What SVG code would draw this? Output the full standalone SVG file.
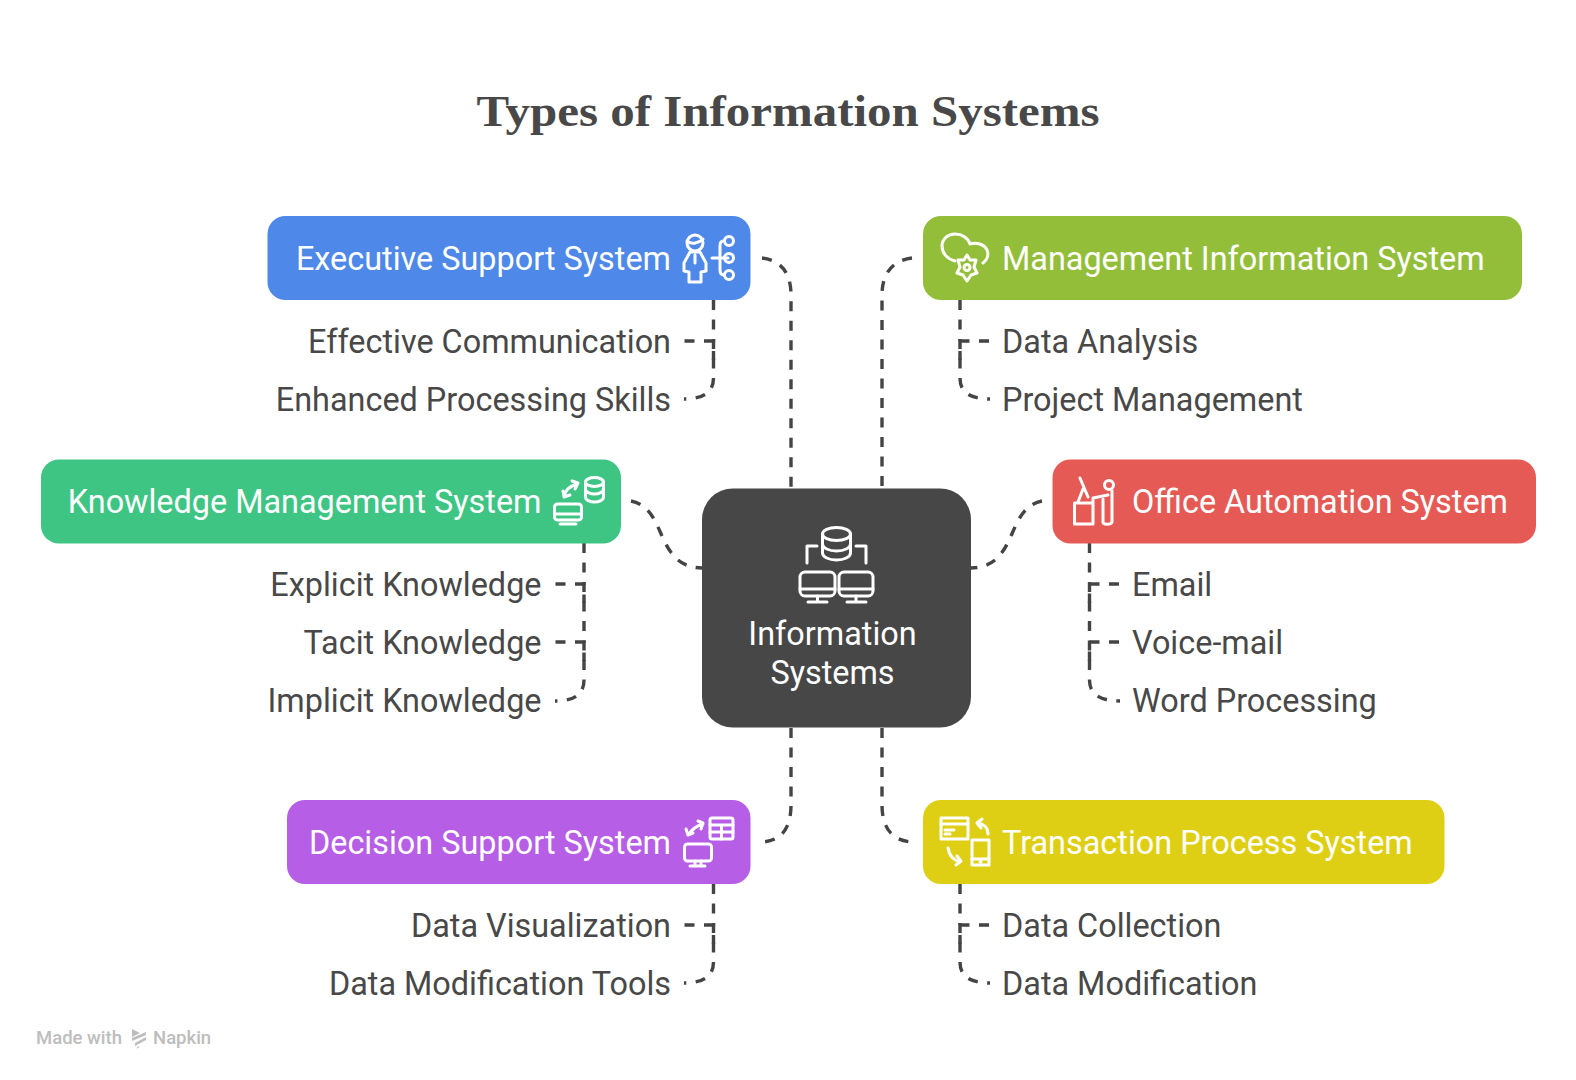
<svg xmlns="http://www.w3.org/2000/svg" width="1576" height="1080" viewBox="0 0 1576 1080">
<style>
text{font-family:Roboto,"Liberation Sans",sans-serif}
.t{font-size:32.400px;fill:#fff}
.s{font-size:32.400px;fill:#484848}
.c{font-size:32.400px;fill:#fff;text-anchor:middle}
.e{text-anchor:end}
.i{fill:none;stroke:#fff;stroke-width:3;stroke-linecap:round;stroke-linejoin:round}
.d{fill:none;stroke:#444;stroke-width:3.400;stroke-dasharray:10 9.500}
</style>
<rect width="1576" height="1080" fill="#fff"/>
<text x="476.500" y="125.500" textLength="623" lengthAdjust="spacingAndGlyphs" style="font-family:'Liberation Serif',serif;font-size:45px;font-weight:700;fill:#484848">Types of Information Systems</text>
<g id="connectors">
<path class="d" d="M762 258C780 260 791 272 791 295V488"/>
<path class="d" d="M912 258C894 260 882 272 882 295V488"/>
<path class="d" d="M631 501C668 508 654 567 702 568"/>
<path class="d" d="M1042 501C1005 508 1019 567 971 568"/>
<path class="d" d="M791 728V805C791 830 780 841 762 842"/>
<path class="d" d="M882 728V805C882 830 894 841 912 842"/>
<path class="d" d="M713.500 300V378C713.500 391 705 399 684 399"/>
<path class="d" d="M684.500 341H713.500V360"/>
<path class="d" d="M960 300V378C960 391 968 399 990 399"/>
<path class="d" d="M989 341H960V360"/>
<path class="d" d="M584 543V680C584 693 576 701 555 701"/>
<path class="d" d="M555.500 584H584V603"/>
<path class="d" d="M555.500 642H584V661"/>
<path class="d" d="M1089.500 543V680C1089.500 693 1098 701 1120 701"/>
<path class="d" d="M1119 584H1089.500V603"/>
<path class="d" d="M1119 642H1089.500V661"/>
<path class="d" d="M713.500 884V962C713.500 975 705 983 684 983"/>
<path class="d" d="M684.500 925H713.500V944"/>
<path class="d" d="M960 884V962C960 975 968 983 990 983"/>
<path class="d" d="M989 925H960V944"/>
</g>
<g id="center">
<rect x="702" y="488.500" width="269" height="239" rx="31" fill="#474747"/>
<g class="i">
<ellipse cx="836.500" cy="534" rx="14" ry="6.500"/>
<path d="M822.500 534V553C822.500 557 829 560 836.500 560S850.500 557 850.500 553V534M822.500 544C822.500 548 829 551 836.500 551S850.500 548 850.500 544"/>
<path d="M807 563V546H817M866 563V546H856"/>
<rect x="800" y="572" width="35" height="24" rx="5"/><path d="M800 589H835M817.500 596V602M808 602H827"/>
<rect x="839" y="572" width="34" height="24" rx="5"/><path d="M839 589H873M856 596V602M847 602H866"/>
</g>
<text class="c" x="832.500" y="644.500">Information</text>
<text class="c" x="832.500" y="683.500">Systems</text>
</g>
<g id="executive">
<rect x="267.500" y="216" width="483" height="84" rx="18" fill="#4e88e8"/>
<text class="t e" x="671" y="269.700">Executive Support System</text>
<g class="i">
<circle cx="695" cy="243" r="8"/><path d="M687 241C692 245 699 243 703 239"/>
<path d="M690 252L684 263V271L689 272V282H701V272L706 271V263L700 252ZM695 255V263"/>
<path d="M712 258H728M723 241C720 241 720 244 720 246V270C720 273 721 275 724 275"/>
<circle cx="729" cy="241" r="4.500"/><circle cx="729" cy="258" r="4.500"/><circle cx="729" cy="275" r="4.500"/>
</g>
<text class="s e" x="671" y="352.700">Effective Communication</text>
<text class="s e" x="671" y="410.700">Enhanced Processing Skills</text>
</g>
<g id="management">
<rect x="923" y="216" width="599" height="84" rx="18" fill="#93be3a"/>
<g class="i">
<path d="M955 261C947 259 942 253 942 246C942 239 948 234 955 234C962 234 968 238 970 244C976 242 984 244 987 250C989 255 987 260 983 263"/>
<path d="M967 255L970 260H976L974 267L977 273L971 275L967 281L963 275L957 273L960 267L958 260H964Z"/><circle cx="967" cy="267.500" r="3"/>
</g>
<text class="t" x="1002" y="269.700">Management Information System</text>
<text class="s" x="1002" y="352.700">Data Analysis</text>
<text class="s" x="1002" y="410.700">Project Management</text>
</g>
<g id="knowledge">
<rect x="41" y="459.500" width="580" height="84" rx="18" fill="#3ec584"/>
<text class="t e" x="541.500" y="512.700">Knowledge Management System</text>
<g class="i">
<ellipse cx="594.500" cy="482" rx="9" ry="4.500"/>
<path d="M585.500 482V497C585.500 500 590 502 594.500 502S603.500 500 603.500 497V482M585.500 489C585.500 492 590 494 594.500 494S603.500 492 603.500 489"/>
<path d="M564 497C565 490 570 486 577 484M572 481L578 483L575 489M563 491L564 497L570 495"/>
<rect x="554.500" y="504" width="27" height="16" rx="3"/><path d="M554.500 514H581.500M560 524H576"/>
</g>
<text class="s e" x="541.500" y="595.700">Explicit Knowledge</text>
<text class="s e" x="541.500" y="653.700">Tacit Knowledge</text>
<text class="s e" x="541.500" y="711.700">Implicit Knowledge</text>
</g>
<g id="office">
<rect x="1052.500" y="459.500" width="483.500" height="84" rx="18" fill="#e65a55"/>
<g class="i">
<path d="M1074.500 524V503H1093V524ZM1080 478L1088 497M1078 502L1083 489M1093 503V498L1108 495"/>
<circle cx="1109" cy="485" r="4.500"/>
<path d="M1103 499V522C1103 525 1111 525 1112 522V491"/>
</g>
<text class="t" x="1132" y="512.700">Office Automation System</text>
<text class="s" x="1132" y="595.700">Email</text>
<text class="s" x="1132" y="653.700">Voice-mail</text>
<text class="s" x="1132" y="711.700">Word Processing</text>
</g>
<g id="decision">
<rect x="287" y="800" width="463.500" height="84" rx="18" fill="#b65ee5"/>
<text class="t e" x="671" y="853.700">Decision Support System</text>
<g class="i">
<rect x="710" y="818" width="23" height="21" rx="2"/><path d="M710 825H733M710 832H733M721.500 825V839"/>
<path d="M688 835C692 829 696 826 703 824M698 821L703 823L701 829M686 829L688 835L693 833"/>
<rect x="684.500" y="844" width="27" height="17" rx="3"/><path d="M695 861V866H701V861M690 866H705"/>
</g>
<text class="s e" x="671" y="936.700">Data Visualization</text>
<text class="s e" x="671" y="994.700">Data Modification Tools</text>
</g>
<g id="transaction">
<rect x="923" y="800" width="521.500" height="84" rx="18" fill="#dfcf14"/>
<g class="i">
<rect x="941" y="818" width="27" height="21"/><path d="M941 824H968M945 830H954M945 834H950"/>
<rect x="972" y="840" width="17" height="25"/><path d="M972 859H989M980 862H981"/>
<path d="M988 834C988 828 984 824 978 823M982 819L977 823L981 828M948 848C949 855 953 860 960 862M956 865L961 861L957 856"/>
</g>
<text class="t" x="1002" y="853.700">Transaction Process System</text>
<text class="s" x="1002" y="936.700">Data Collection</text>
<text class="s" x="1002" y="994.700">Data Modification</text>
</g>
<g id="footer">
<text x="36" y="1044" style="font-size:18.500px;fill:#bdbdbd;font-weight:500">Made with</text>
<path d="M132 1029L140 1033L132 1037ZM146 1035L132 1041V1038L146 1032ZM146 1040L135 1046V1043L146 1037ZM140 1046L137 1049V1047Z" fill="#bdbdbd"/>
<text x="153" y="1044" style="font-size:18.500px;fill:#bdbdbd;font-weight:500">Napkin</text>
</g>
</svg>
